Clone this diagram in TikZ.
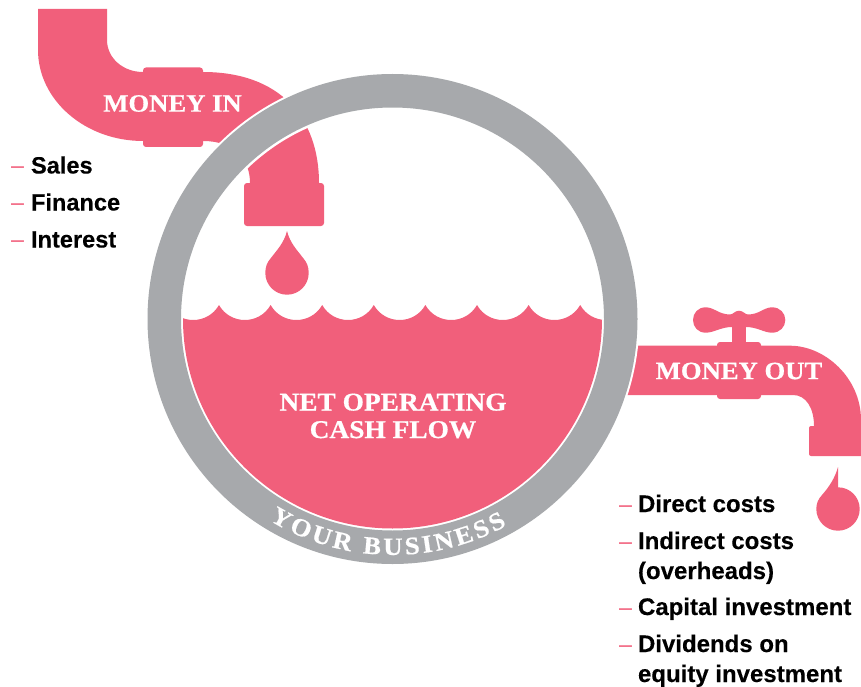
\documentclass[tikz,border=0pt]{standalone}
\usepackage{fontspec}
\usetikzlibrary{decorations.text}
\setmainfont{Liberation Sans}
\newfontfamily\heavyfont[BoldFeatures={FakeBold=0.25}]{Liberation Sans}
\newfontfamily\stencilfont[FakeStretch=1.07,BoldFeatures={FakeBold=0.6}]{Liberation Serif}
\definecolor{pinkc}{HTML}{F15F7B}
\definecolor{greyc}{HTML}{A7A9AC}
\tikzset{
  pipe/.style={fill=pinkc,draw=none},
  collar/.style={fill=pinkc,draw=none,rounded corners=3pt},
  stencil/.style={inner sep=0,outer sep=0,text=white,align=center,font=\stencilfont\bfseries\fontsize{25.6}{27.5}\selectfont},
  stencilsmall/.style={stencil,font=\stencilfont\bfseries\fontsize{24.9}{27.5}\selectfont},
  item/.style={inner sep=0,outer sep=0,anchor=base west,text=black,font=\heavyfont\bfseries\fontsize{23.6}{28}\selectfont},
  itemr/.style={item,font=\heavyfont\bfseries\fontsize{24}{28}\selectfont},
  dashmark/.style={inner sep=0,outer sep=0,anchor=base west,text=pinkc,font=\fontsize{23.3}{28}\selectfont}
}
\begin{document}
\begin{tikzpicture}[x=1pt,y=-1pt]
\useasboundingbox (0,0) rectangle (861,687);
\coordinate (c) at (392.5,319);
% money-in pipe
\fill[pipe] (38,9) -- (107,9) -- (107,40) .. controls (107,58) and (123,72) .. (143,72)
  -- (203,72) .. controls (280,72) and (319,118) .. (319,183)
  -- (250,183) .. controls (250,160) and (235,141) .. (203,141)
  -- (143,141) .. controls (85,141) and (38,100) .. (38,50) -- cycle;
\fill[collar] (143,67.5) rectangle (203,147);
\fill[collar] (244,183) rectangle (324,226);
% first drop
\fill[pipe] (287,231) .. controls (284,243) and (277,250) .. (270.5,258.5)
  .. controls (267,262.5) and (265.3,267) .. (265.3,273)
  .. controls (265.3,285) and (275,294.7) .. (287,294.7)
  .. controls (299,294.7) and (308.7,285) .. (308.7,273)
  .. controls (308.7,267) and (307,262.5) .. (303.5,258.5)
  .. controls (297,250) and (290,243) .. (287,231) -- cycle;
% money-out pipe
\fill[pipe] (610,345.7) -- (790,345.7) .. controls (825,345.7) and (861,378) .. (861,420)
  -- (861,426) -- (814,426) .. controls (814,408) and (806,395) .. (793,395) -- (610,395) -- cycle;
\fill[collar] (717,342) rectangle (761,399);
\fill[pipe] (811,426) -- (861,426) -- (861,456) -- (811,456)
  .. controls (810,456) and (809,455) .. (809,454) -- (809,428)
  .. controls (809,427) and (810,426) .. (811,426) -- cycle;
\fill[pipe] (732,325) rectangle (746,343);
% tap handle
\fill[pipe] (705.7,307.3) .. controls (714,307.3) and (719,314.5) .. (730,314.5)
  .. controls (733,314.5) and (735,310.7) .. (739,310.7)
  .. controls (743,310.7) and (745,314.5) .. (748,314.5)
  .. controls (759,314.5) and (764,307.3) .. (772,307.3)
  .. controls (780,307.3) and (785.3,313) .. (785.3,320)
  .. controls (785.3,327) and (780,332.7) .. (772,332.7)
  .. controls (764,332.7) and (757,327) .. (746,327)
  -- (732,327) .. controls (721,327) and (714,332.7) .. (705.7,332.7)
  .. controls (698,332.7) and (693,327) .. (693,320)
  .. controls (693,313) and (698,307.3) .. (705.7,307.3) -- cycle;
% second drop
\fill[pipe] (838,467) .. controls (835,478) and (829,487) .. (822,495)
  .. controls (818,499) and (816.3,504) .. (816.3,509)
  .. controls (816.3,521) and (826,530.7) .. (838,530.7)
  .. controls (850,530.7) and (859.7,521) .. (859.7,509)
  .. controls (859.7,497) and (850,487.3) .. (838,487.3) -- cycle;
% ring
\draw[white,line width=38pt] (c) circle[radius=228pt];
\draw[greyc,line width=33.5pt] (c) circle[radius=228.25pt];
% water
\begin{scope}
\clip (c) circle[radius=209.5pt];
\fill[pinkc] (167.4,305)
  \foreach \i [evaluate=\i as \a using 167.4+51.6*\i] in {0,...,8} {
    .. controls ({\a+11.4},325) and ({\a+40.2},325) .. ({\a+51.6},305)
  } -- (640,305) -- (640,560) -- (150,560) -- (150,305) -- cycle;
\end{scope}
% labels
\node[stencilsmall] (in) at (172.5,103.5) {MONEY IN};
\node[stencilsmall] (out) at (739,371) {MONEY OUT};
\node[stencil] (net) at (393,416) {NET OPERATING\\CASH FLOW};
\path[decorate,decoration={text along path,text align=fit to path,
  text={|\stencilfont\bfseries\fontsize{25}{27}\selectfont\color{white}|YOUR BUSINESS}}]
  (269.2,520.2) .. controls (341.7,564.6) and (432.6,566.6) .. (506.9,525.4);
% left list
\node[item] (a1) at (31,173.5) {Sales};
\node[item] (a2) at (31,210.5) {Finance};
\node[item] (a3) at (31,247.5) {Interest};
\node[dashmark] (d1) at (11,173.5) {–};
\node[dashmark] (d2) at (11,210.5) {–};
\node[dashmark] (d3) at (11,247.5) {–};
% right list
\node[itemr] (b1) at (638,512) {Direct costs};
\node[itemr] (b2) at (638,549) {Indirect costs};
\node[itemr] (b3) at (638,579) {(overheads)};
\node[itemr] (b4) at (638,615) {Capital investment};
\node[itemr] (b5) at (638,652) {Dividends on};
\node[itemr] (b6) at (638,682) {equity investment};
\node[dashmark] (e1) at (619,512) {–};
\node[dashmark] (e2) at (619,549) {–};
\node[dashmark] (e4) at (619,615) {–};
\node[dashmark] (e5) at (619,652) {–};
\end{tikzpicture}
\end{document}
